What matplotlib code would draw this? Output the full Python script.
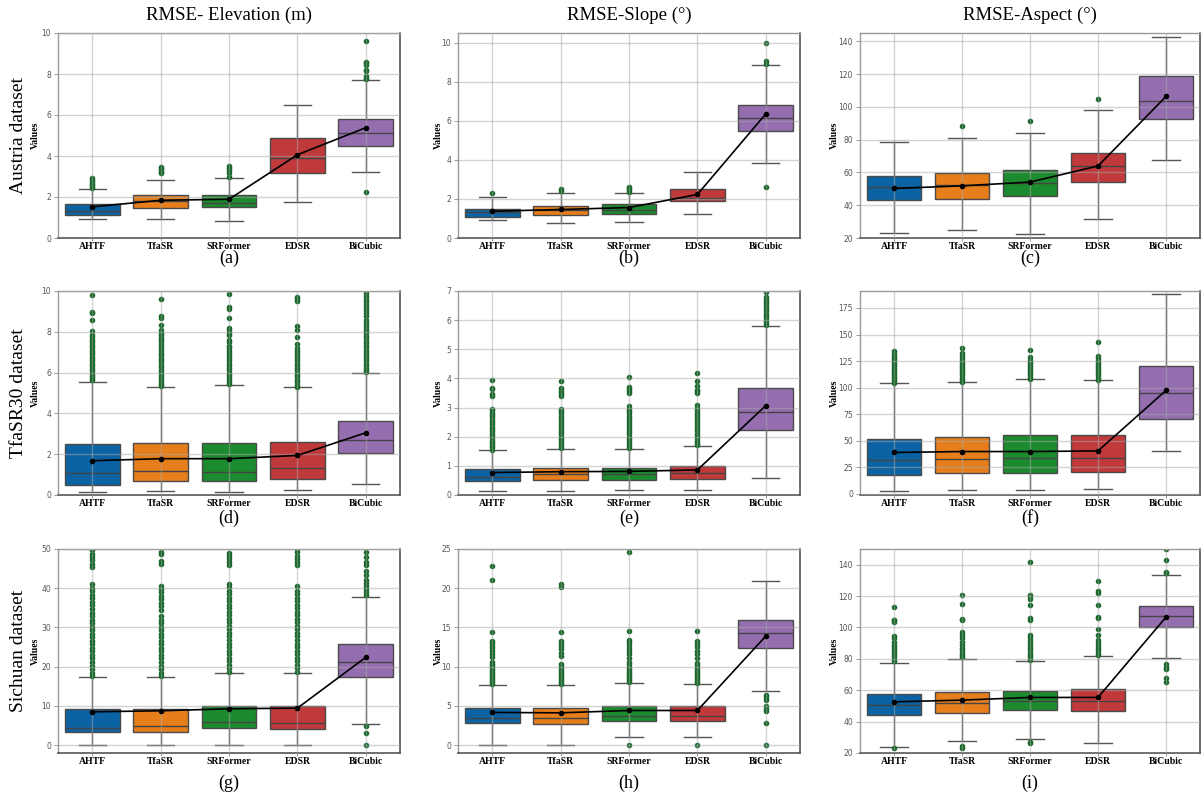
import matplotlib
matplotlib.use("Agg")
import matplotlib.pyplot as plt

# ---------------- data ----------------
METHODS = ["AHTF", "TfaSR", "SRFormer", "EDSR", "BiCubic"]
COL_TITLES = ["RMSE- Elevation (m)", "RMSE-Slope (°)", "RMSE-Aspect (°)"]
ROW_TITLES = ["Austria dataset", "TfaSR30 dataset", "Sichuan dataset"]
PANEL_LABELS = ["(a)", "(b)", "(c)", "(d)", "(e)", "(f)", "(g)", "(h)", "(i)"]

# (a) Austria - Elevation
Q1_A = [1.11, 1.44, 1.52, 3.18, 4.50]
MED_A = [1.32, 1.79, 1.73, 3.88, 5.11]
Q3_A = [1.65, 2.12, 2.09, 4.86, 5.79]
LO_A = [0.91, 0.95, 0.83, 1.78, 3.20]
HI_A = [2.37, 2.85, 2.94, 6.48, 7.72]
MEAN_A = [1.52, 1.84, 1.89, 4.06, 5.38]
FL_A = [[2.42, 2.5, 2.58, 2.65, 2.75, 2.85, 2.95],
        [3.15, 3.2, 3.3, 3.4, 3.47],
        [3.0, 3.15, 3.3, 3.4, 3.5],
        [],
        [2.25, 7.78, 7.82, 7.88, 8.15, 8.2, 8.45, 8.52, 8.6, 9.59]]

# (b) Austria - Slope
Q1_B = [1.08, 1.17, 1.25, 1.87, 5.49]
MED_B = [1.32, 1.42, 1.42, 2.06, 6.14]
Q3_B = [1.51, 1.63, 1.72, 2.49, 6.83]
LO_B = [0.91, 0.79, 0.84, 1.25, 3.83]
HI_B = [2.11, 2.28, 2.33, 3.40, 8.85]
MEAN_B = [1.37, 1.46, 1.56, 2.23, 6.36]
FL_B = [[2.32], [2.42, 2.49], [2.37, 2.45, 2.55, 2.62], [], [2.62, 8.9, 9.06, 9.97]]

# (c) Austria - Aspect
Q1_C = [43.1, 43.9, 45.7, 54.3, 92.7]
MED_C = [51.2, 52.2, 53.7, 64.1, 103.3]
Q3_C = [57.8, 59.4, 61.4, 72.0, 118.8]
LO_C = [23.3, 25.1, 22.7, 31.8, 67.6]
HI_C = [78.4, 80.8, 83.9, 98.2, 142.7]
MEAN_C = [50.2, 51.8, 54.1, 63.9, 106.3]
FL_C = [[], [88.4], [91.6], [104.9], []]

# (d) TfaSR30 - Elevation
Q1_D = [0.49, 0.69, 0.69, 0.80, 2.07]
MED_D = [1.06, 1.17, 1.14, 1.32, 2.72]
Q3_D = [2.51, 2.54, 2.56, 2.59, 3.61]
LO_D = [0.15, 0.21, 0.16, 0.24, 0.52]
HI_D = [5.55, 5.27, 5.38, 5.27, 5.97]
MEAN_D = [1.68, 1.78, 1.78, 1.94, 3.05]
FL_D = [[5.62, 5.72, 5.85, 5.95, 6.08, 6.2, 6.31, 6.42, 6.55, 6.66, 6.78, 6.9, 7.02, 7.13,
         7.25, 7.37, 7.5, 7.62, 7.75, 7.85, 8.02, 8.6, 8.9, 8.95, 9.82],
        [5.32, 5.42, 5.55, 5.66, 5.78, 5.9, 6.02, 6.14, 6.26, 6.38, 6.5, 6.62, 6.74, 6.86,
         6.98, 7.1, 7.22, 7.35, 7.48, 7.6, 7.72, 7.85, 7.95, 8.08, 8.35, 8.7, 8.76, 9.6],
        [5.42, 5.52, 5.64, 5.76, 5.88, 6.0, 6.12, 6.24, 6.36, 6.48, 6.6, 6.72, 6.84, 6.96,
         7.08, 7.2, 7.3, 7.5, 7.62, 7.82, 7.95, 8.1, 8.2, 8.7, 9.1, 9.2, 9.85],
        [5.3, 5.4, 5.52, 5.64, 5.76, 5.88, 6.0, 6.12, 6.24, 6.36, 6.48, 6.6, 6.72, 6.84,
         6.96, 7.08, 7.2, 7.4, 7.75, 8.1, 8.3, 9.5, 9.6, 9.7],
        [6.02, 6.12, 6.24, 6.36, 6.48, 6.6, 6.72, 6.84, 6.96, 7.08, 7.2, 7.32, 7.44, 7.56,
         7.68, 7.8, 7.92, 8.04, 8.16, 8.28, 8.45, 8.6, 8.75, 8.9, 9.05, 9.2, 9.35, 9.5,
         9.62, 9.75, 9.88]]

# (e) TfaSR30 - Slope
Q1_E = [0.48, 0.51, 0.51, 0.55, 2.23]
MED_E = [0.63, 0.72, 0.72, 0.74, 2.86]
Q3_E = [0.88, 0.93, 0.93, 1.01, 3.66]
LO_E = [0.14, 0.15, 0.16, 0.16, 0.59]
HI_E = [1.53, 1.57, 1.57, 1.68, 5.79]
MEAN_E = [0.77, 0.80, 0.81, 0.86, 3.07]
FL_E = [[1.56, 1.63, 1.7, 1.78, 1.86, 1.94, 2.02, 2.1, 2.18, 2.26, 2.34, 2.42, 2.5, 2.58,
         2.66, 2.74, 2.82, 2.9, 2.96, 3.4, 3.45, 3.63, 3.66, 3.95],
        [1.6, 1.68, 1.76, 1.84, 1.92, 2.0, 2.08, 2.16, 2.24, 2.32, 2.4, 2.48, 2.56, 2.64,
         2.72, 2.8, 2.88, 2.96, 3.4, 3.45, 3.55, 3.62, 3.67, 3.9],
        [1.6, 1.68, 1.76, 1.84, 1.92, 2.0, 2.08, 2.16, 2.24, 2.32, 2.4, 2.48, 2.56, 2.64,
         2.72, 2.8, 2.88, 2.96, 3.05, 3.5, 3.58, 3.65, 3.72, 4.05],
        [1.7, 1.78, 1.86, 1.94, 2.02, 2.1, 2.18, 2.26, 2.34, 2.42, 2.5, 2.58, 2.66, 2.74,
         2.82, 2.9, 3.0, 3.08, 3.5, 3.57, 3.62, 3.75, 3.9, 4.18],
        [5.82, 5.9, 5.98, 6.06, 6.14, 6.22, 6.3, 6.38, 6.46, 6.54, 6.62, 6.7, 6.8, 6.96]]

# (f) TfaSR30 - Aspect
Q1_F = [17.9, 19.5, 19.5, 20.4, 70.4]
MED_F = [32.0, 33.0, 33.6, 34.2, 94.9]
Q3_F = [51.8, 53.4, 55.0, 55.0, 120.6]
LO_F = [2.8, 3.8, 3.8, 5.0, 40.5]
HI_F = [104.0, 105.2, 108.1, 107.1, 188.2]
MEAN_F = [39.0, 39.9, 39.9, 40.5, 97.4]
FL_F = [[104, 106, 108, 110, 112, 114, 116, 118, 120, 122, 124, 126, 128, 130, 132, 134.5],
        [105.5, 107.5, 109.5, 111.5, 113.5, 115.5, 117.5, 119.5, 121.5, 123.5, 125.5,
         127.5, 129.5, 133, 137.5],
        [108.5, 110.5, 112.5, 114.5, 116.5, 118.5, 120.5, 122.5, 124.5, 126.5, 128.5, 135],
        [107.5, 109.5, 111.5, 113.5, 115.5, 117.5, 119.5, 121.5, 123.5, 125.5, 128, 130, 143],
        []]

# (g) Sichuan - Elevation
Q1_G = [3.23, 3.40, 4.34, 4.08, 17.4]
MED_G = [4.42, 4.93, 5.87, 5.70, 21.3]
Q3_G = [9.18, 9.18, 10.1, 10.1, 25.8]
LO_G = [0.0, 0.0, 0.0, 0.0, 5.36]
HI_G = [17.3, 17.3, 18.5, 18.5, 37.8]
MEAN_G = [8.5, 8.76, 9.27, 9.44, 22.4]
FL_G = [[17.6, 18.5, 19.4, 20.3, 21.2, 22.1, 23.0, 23.9, 24.8, 25.7, 26.6, 27.5, 28.4, 29.3,
         30.2, 31.1, 32.0, 32.9, 33.8, 34.7, 35.6, 36.5, 37.4, 38.3, 39.2, 40.1, 41.0,
         45.5, 46.3, 47.2, 48.0, 48.8, 49.8],
        [17.6, 18.5, 19.4, 20.3, 21.2, 22.1, 23.0, 23.9, 24.8, 25.7, 26.6, 27.5, 28.4, 29.3,
         30.2, 31.1, 32.0, 33.0, 34.5, 35.4, 36.3, 37.2, 38.1, 39.0, 39.8, 40.5,
         46.2, 47.0, 48.6, 49.3],
        [18.7, 19.6, 20.5, 21.4, 22.3, 23.2, 24.1, 25.0, 25.9, 26.8, 27.7, 28.6, 29.5, 30.4,
         31.3, 32.2, 33.1, 34.0, 34.9, 35.8, 36.7, 37.6, 38.5, 39.4, 40.3, 41.2,
         45.8, 46.6, 47.5, 48.3, 49.0],
        [18.7, 19.6, 20.5, 21.4, 22.3, 23.2, 24.1, 25.0, 25.9, 26.8, 27.7, 28.6, 29.5, 30.4,
         31.3, 32.2, 33.1, 34.0, 34.9, 35.8, 36.7, 37.6, 38.5, 39.4, 40.6,
         45.8, 46.6, 47.4, 48.3, 49.2, 50.0],
        [0.0, 3.1, 5.0, 38.2, 39.0, 39.8, 40.6, 41.4, 42.2, 43.5, 44.5, 45.8, 46.8, 48.0, 49.3]]

# (h) Sichuan - Slope
Q1_H = [2.76, 2.68, 3.06, 3.06, 12.33]
MED_H = [3.40, 3.40, 3.70, 3.74, 14.24]
Q3_H = [4.76, 4.76, 4.97, 4.97, 15.99]
LO_H = [0.0, 0.0, 1.1, 1.1, 6.89]
HI_H = [7.65, 7.61, 7.87, 7.78, 20.92]
MEAN_H = [4.17, 4.12, 4.42, 4.42, 13.90]
FL_H = [[7.8, 8.05, 8.3, 8.55, 8.8, 9.05, 9.3, 9.55, 9.8, 10.05, 10.3, 10.55, 11.2, 11.6,
         12.0, 12.4, 12.7, 13.0, 13.3, 14.4, 21.1, 22.8],
        [7.8, 8.05, 8.3, 8.55, 8.8, 9.05, 9.3, 9.55, 9.8, 10.1, 10.4, 11.3, 11.8, 12.2, 12.6,
         13.0, 13.3, 14.4, 20.1, 20.6],
        [0.0, 8.0, 8.25, 8.5, 8.75, 9.0, 9.25, 9.5, 9.75, 10.0, 10.3, 10.6, 11.1, 11.6, 12.0,
         12.4, 12.8, 13.1, 13.4, 14.5, 24.6],
        [0.0, 7.9, 8.15, 8.4, 8.65, 8.9, 9.15, 9.4, 9.65, 9.9, 10.2, 10.5, 11.1, 11.6, 12.0,
         12.5, 12.9, 13.3, 14.5],
        [0.0, 2.8, 4.4, 4.65, 5.0, 5.7, 6.1, 6.45]]

# (i) Sichuan - Aspect
Q1_I = [44.5, 45.2, 47.3, 46.7, 100.2]
MED_I = [50.5, 51.6, 53.3, 52.9, 107.0]
Q3_I = [57.9, 58.8, 59.7, 60.6, 113.8]
LO_I = [23.8, 27.7, 29.0, 26.4, 80.3]
HI_I = [77.6, 80.1, 78.6, 81.8, 133.6]
MEAN_I = [52.6, 53.7, 55.4, 55.4, 106.6]
FL_I = [[23.0, 78.5, 80, 81.5, 83, 84.5, 86, 87.5, 89, 91, 93, 94.5, 103.5, 104.5, 105, 113],
        [23.5, 24.5, 81, 82.5, 84, 85.5, 87, 89, 91, 93, 95, 97, 104.5, 105.5, 115, 121],
        [26.5, 27.2, 79.5, 81, 82.5, 84, 85.5, 87, 88.5, 90, 92, 94, 95.5, 105, 106, 114,
         118, 120, 121, 141.5],
        [82.5, 84, 85.5, 87, 88.5, 90, 92, 95, 99, 106, 106.5, 114.5, 122, 123, 129.5],
        [65, 68, 73.5, 75, 76.5, 134.5, 135.3, 143, 150]]

# ---------------- styling ----------------
BOX_COLORS = ["#0b63a3", "#e67e1c", "#1c8a2e", "#c0393b", "#956eb0"]
W, H = 1203, 793
COL_X = [(58, 400), (458, 800), (860, 1200)]
ROW_Y = [(33, 238), (291, 495), (549, 753)]
LABEL_Y = [258, 518, 783]
YLABEL_X = [40, 443, 839]

PANELS = [
    (Q1_A, MED_A, Q3_A, LO_A, HI_A, MEAN_A, FL_A, (0, 10), [0, 2, 4, 6, 8, 10]),
    (Q1_B, MED_B, Q3_B, LO_B, HI_B, MEAN_B, FL_B, (0, 10.5), [0, 2, 4, 6, 8, 10]),
    (Q1_C, MED_C, Q3_C, LO_C, HI_C, MEAN_C, FL_C, (20, 145), [20, 40, 60, 80, 100, 120, 140]),
    (Q1_D, MED_D, Q3_D, LO_D, HI_D, MEAN_D, FL_D, (0, 10), [0, 2, 4, 6, 8, 10]),
    (Q1_E, MED_E, Q3_E, LO_E, HI_E, MEAN_E, FL_E, (0, 7), [0, 1, 2, 3, 4, 5, 6, 7]),
    (Q1_F, MED_F, Q3_F, LO_F, HI_F, MEAN_F, FL_F, (-1, 191), [0, 25, 50, 75, 100, 125, 150, 175]),
    (Q1_G, MED_G, Q3_G, LO_G, HI_G, MEAN_G, FL_G, (-2, 50), [0, 10, 20, 30, 40, 50]),
    (Q1_H, MED_H, Q3_H, LO_H, HI_H, MEAN_H, FL_H, (-1, 25), [0, 5, 10, 15, 20, 25]),
    (Q1_I, MED_I, Q3_I, LO_I, HI_I, MEAN_I, FL_I, (20, 150), [20, 40, 60, 80, 100, 120, 140]),
]

SERIF = ["Liberation Serif", "DejaVu Serif"]

fig = plt.figure(figsize=(W / 100, H / 100), dpi=100)
fig.patch.set_facecolor("white")

for idx, (q1, med, q3, lo, hi, mean, fl, ylim, yticks) in enumerate(PANELS):
    r, c = divmod(idx, 3)
    x0, x1 = COL_X[c]
    y0, y1 = ROW_Y[r]
    ax = fig.add_axes([x0 / W, 1 - y1 / H, (x1 - x0) / W, (y1 - y0) / H])
    stats = []
    for k in range(5):
        stats.append(dict(med=med[k], q1=q1[k], q3=q3[k], whislo=lo[k], whishi=hi[k],
                          fliers=fl[k], label=METHODS[k]))
    pos = list(range(5))
    bp = ax.bxp(stats, positions=pos, widths=0.8, patch_artist=True,
                boxprops=dict(edgecolor="#4a4a4a", linewidth=1.0),
                medianprops=dict(color="#444444", linewidth=1.0),
                whiskerprops=dict(color="#555555", linewidth=1.0),
                capprops=dict(color="#555555", linewidth=1.0),
                flierprops=dict(marker="o", markersize=3.0, markerfacecolor="#17692a",
                                markeredgecolor="#17692a", linestyle="none"))
    for patch, col in zip(bp["boxes"], BOX_COLORS):
        patch.set_facecolor(col)
    ax.plot(pos, mean, color="black", marker="o", markersize=3, linewidth=1.2, zorder=6)

    ax.set_xlim(-0.5, 4.5)
    ax.set_ylim(*ylim)
    ax.set_yticks(yticks)
    ax.set_xticks(pos)
    ax.set_xticklabels(METHODS, fontfamily=SERIF, fontweight="bold", fontsize=7)
    ax.tick_params(axis="y", labelsize=5.5, labelcolor="#555555", length=3,
                   width=0.6, color="#888888", pad=2)
    ax.tick_params(axis="x", length=2, width=0.6, color="#888888", pad=1)
    ax.grid(True, color="#a8a8a8", linewidth=1.0, alpha=0.5)
    ax.set_axisbelow(False)
    ax.set_ylabel("Values", fontfamily=SERIF, fontweight="bold", fontsize=7)
    ax.yaxis.set_label_coords((YLABEL_X[c] - x0) / (x1 - x0), 0.5)
    for side in ("left", "top"):
        ax.spines[side].set_color("#9a9a9a")
        ax.spines[side].set_linewidth(1.0)
    for side in ("right", "bottom"):
        ax.spines[side].set_color("#555555")
        ax.spines[side].set_linewidth(1.2)

    fig.text(((x0 + x1) / 2) / W, 1 - LABEL_Y[r] / H, PANEL_LABELS[idx],
             ha="center", va="center", fontfamily=SERIF, fontsize=13)

for c, t in enumerate(COL_TITLES):
    x0, x1 = COL_X[c]
    fig.text(((x0 + x1) / 2) / W, 1 - 15 / H, t, ha="center", va="center",
             fontfamily=SERIF, fontsize=13.5)

for r, t in enumerate(ROW_TITLES):
    y0, y1 = ROW_Y[r]
    fig.text(19 / W, 1 - ((y0 + y1) / 2) / H, t, ha="center", va="center",
             rotation=90, fontfamily=SERIF, fontsize=14)

fig.savefig("out.png", dpi=100, facecolor="white")
